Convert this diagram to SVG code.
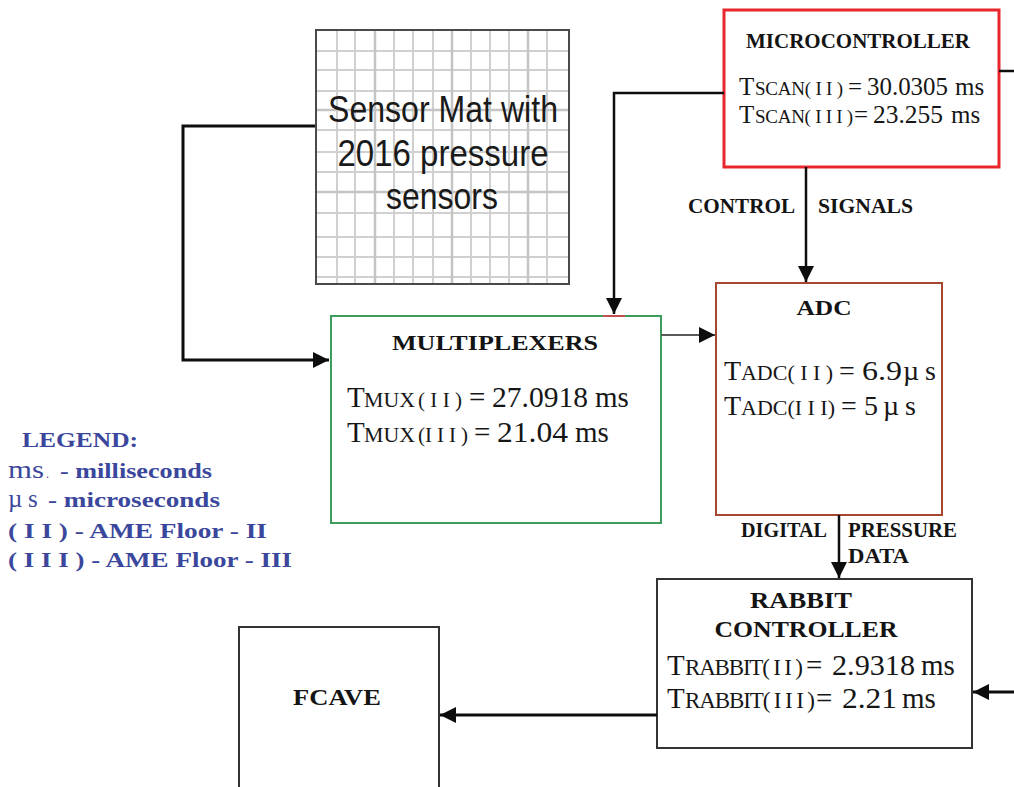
<svg xmlns="http://www.w3.org/2000/svg" width="1014" height="787" viewBox="0 0 1014 787">
<style>
.bold{font-family:"Liberation Serif","Times New Roman",serif;font-weight:bold;fill:#141414}
.ser{font-family:"Liberation Serif","Times New Roman",serif;fill:#161616}
.leg{font-family:"Liberation Serif","Times New Roman",serif;font-weight:bold;fill:#3a479c}
.legr{font-family:"Liberation Serif","Times New Roman",serif;fill:#3a479c}
.sans{font-family:"Liberation Sans",Arial,sans-serif;fill:#1a1a1a}
.conn{fill:none;stroke:#0d0d0d}
</style>
<defs>
<marker id="ah" markerUnits="userSpaceOnUse" markerWidth="17" markerHeight="17" refX="16" refY="8" orient="auto">
<path d="M0,0 L16,8 L0,16 Z" fill="#0d0d0d"/>
</marker>
</defs>
<rect width="1014" height="787" fill="#ffffff"/>

<g id="sensor-mat">
<rect x="316" y="30" width="253" height="254" fill="#ffffff"/>
<path d="M337,30V284M355,30V284M375,30V284M394,30V284M413,30V284M433,30V284M452,30V284M471,30V284M490,30V284M509,30V284M528,30V284M547,30V284M316,51H569M316,70H569M316,91H569M316,110H569M316,130H569M316,152H569M316,172H569M316,192H569M316,213H569M316,237H569M316,257H569M316,277H569" stroke="#d0d0d0" stroke-width="2" fill="none"/>
<path d="M375,30V284M452,30V284M528,30V284M316,110H569M316,192H569" stroke="#c4c4c4" stroke-width="2.5" fill="none"/>
<rect x="316" y="30" width="253" height="254" fill="none" stroke="#4a4a4a" stroke-width="2"/>
<text class="sans" font-size="36" x="443" y="122" text-anchor="middle" textLength="230" lengthAdjust="spacingAndGlyphs">Sensor Mat with</text>
<text class="sans" font-size="36" x="443" y="166" text-anchor="middle" textLength="211" lengthAdjust="spacingAndGlyphs">2016 pressure</text>
<text class="sans" font-size="36" x="442" y="209" text-anchor="middle" textLength="112" lengthAdjust="spacingAndGlyphs">sensors</text>
</g>

<g id="microcontroller">
<rect x="724" y="10" width="275" height="157" fill="#ffffff" stroke="#e8262b" stroke-width="3"/>
<text class="bold" font-size="20" x="858" y="48" text-anchor="middle" textLength="224" lengthAdjust="spacingAndGlyphs">MICROCONTROLLER</text>
<text class="ser" font-size="25" y="95"><tspan x="739">T</tspan><tspan x="755" font-size="19" textLength="88" lengthAdjust="spacing">SCAN( I I )</tspan><tspan x="848">=</tspan><tspan x="867" textLength="81" lengthAdjust="spacingAndGlyphs">30.0305</tspan><tspan x="955">ms</tspan></text>
<text class="ser" font-size="25" y="123"><tspan x="739">T</tspan><tspan x="755" font-size="19" textLength="98" lengthAdjust="spacing">SCAN( I I I )</tspan><tspan x="854">=</tspan><tspan x="873" textLength="70" lengthAdjust="spacingAndGlyphs">23.255</tspan><tspan x="951">ms</tspan></text>
</g>

<g id="multiplexers">
<rect x="331" y="316" width="330" height="207" fill="#ffffff" stroke="#3d9b5b" stroke-width="2"/>
<line x1="603" y1="316" x2="625" y2="316" stroke="#c0504d" stroke-width="2"/>
<text class="bold" font-size="22" x="495" y="350" text-anchor="middle" textLength="206" lengthAdjust="spacingAndGlyphs">MULTIPLEXERS</text>
<text class="ser" font-size="29" y="407"><tspan x="347">T</tspan><tspan x="364" font-size="22" textLength="51" lengthAdjust="spacingAndGlyphs">MUX</tspan><tspan x="418" font-size="21" textLength="44" lengthAdjust="spacing">( I I )</tspan><tspan x="469">=</tspan><tspan x="492" textLength="96" lengthAdjust="spacingAndGlyphs">27.0918</tspan><tspan x="595">ms</tspan></text>
<text class="ser" font-size="29" y="442"><tspan x="347">T</tspan><tspan x="364" font-size="22" textLength="51" lengthAdjust="spacingAndGlyphs">MUX</tspan><tspan x="418" font-size="21" textLength="50" lengthAdjust="spacing">(I I I )</tspan><tspan x="474">=</tspan><tspan x="497" textLength="71" lengthAdjust="spacingAndGlyphs">21.04</tspan><tspan x="575">ms</tspan></text>
</g>

<g id="adc">
<rect x="716" y="283" width="226" height="232" fill="#ffffff" stroke="#a4472f" stroke-width="2"/>
<text class="bold" font-size="21" x="824" y="315" text-anchor="middle" textLength="55" lengthAdjust="spacingAndGlyphs">ADC</text>
<text class="ser" font-size="28" y="380"><tspan x="724">T</tspan><tspan x="741" font-size="22" textLength="92" lengthAdjust="spacing">ADC( I I )</tspan><tspan x="839">=</tspan><tspan x="862" textLength="40" lengthAdjust="spacingAndGlyphs">6.9</tspan><tspan x="903">µ</tspan><tspan x="925">s</tspan></text>
<text class="ser" font-size="28" y="415"><tspan x="724">T</tspan><tspan x="741" font-size="22" textLength="94" lengthAdjust="spacing">ADC(I I I)</tspan><tspan x="841">=</tspan><tspan x="864">5</tspan><tspan x="883">µ</tspan><tspan x="905">s</tspan></text>
</g>

<g id="rabbit-controller">
<rect x="657" y="579" width="315" height="169" fill="#ffffff" stroke="#333333" stroke-width="2"/>
<text class="bold" font-size="23" x="801" y="608" text-anchor="middle" textLength="102" lengthAdjust="spacingAndGlyphs">RABBIT</text>
<text class="bold" font-size="23" x="806" y="637" text-anchor="middle" textLength="183" lengthAdjust="spacingAndGlyphs">CONTROLLER</text>
<text class="ser" font-size="29" y="675"><tspan x="667">T</tspan><tspan x="685" font-size="23" textLength="118" lengthAdjust="spacing">RABBIT( I I )</tspan><tspan x="806">=</tspan><tspan x="832" textLength="83" lengthAdjust="spacingAndGlyphs">2.9318</tspan><tspan x="921">ms</tspan></text>
<text class="ser" font-size="29" y="708"><tspan x="667">T</tspan><tspan x="685" font-size="23" textLength="130" lengthAdjust="spacing">RABBIT( I I I )</tspan><tspan x="816">=</tspan><tspan x="842" textLength="55" lengthAdjust="spacingAndGlyphs">2.21</tspan><tspan x="902">ms</tspan></text>
</g>

<g id="fcave">
<path d="M239,787 V627 H439 V787" fill="#ffffff" stroke="#333333" stroke-width="2"/>
<text class="bold" font-size="24" x="337" y="705" text-anchor="middle" textLength="88" lengthAdjust="spacingAndGlyphs">FCAVE</text>
</g>

<g id="legend">
<text class="leg" font-size="20" x="22" y="447" textLength="116" lengthAdjust="spacingAndGlyphs">LEGEND:</text>
<text y="478"><tspan class="legr" font-size="25" x="8" textLength="36" lengthAdjust="spacingAndGlyphs">ms</tspan><tspan class="legr" font-size="12" x="46" fill="#a8c8e8">.</tspan><tspan class="leg" font-size="20" x="60" textLength="152" lengthAdjust="spacingAndGlyphs">- milliseconds</tspan></text>
<text y="507"><tspan class="legr" font-size="25" x="8">µ</tspan><tspan class="legr" font-size="25" x="28">s</tspan><tspan class="leg" font-size="20" x="48" textLength="172" lengthAdjust="spacingAndGlyphs">- microseconds</tspan></text>
<text class="leg" font-size="20" x="8" y="538" textLength="259" lengthAdjust="spacingAndGlyphs">( I I ) - AME Floor - II</text>
<text class="leg" font-size="20" x="8" y="567" textLength="284" lengthAdjust="spacingAndGlyphs">( I I I ) - AME Floor - III</text>
</g>

<g id="connectors">
<polyline class="conn" style="stroke-width:3" points="315,126 183,126 183,360 329,360" marker-end="url(#ah)"/>
<polyline class="conn" style="stroke-width:2.5" points="724,93 614,93 614,314" marker-end="url(#ah)"/>
<line class="conn" style="stroke-width:2.5" x1="806" y1="167" x2="806" y2="282" marker-end="url(#ah)"/>
<line class="conn" style="stroke:#5a5a5a;stroke-width:1.8" x1="661" y1="335" x2="715" y2="335" marker-end="url(#ah)"/>
<line class="conn" style="stroke-width:2.5" x1="839" y1="515" x2="839" y2="578" marker-end="url(#ah)"/>
<line class="conn" style="stroke-width:3" x1="657" y1="715" x2="440" y2="715" marker-end="url(#ah)"/>
<line class="conn" style="stroke-width:3" x1="1014" y1="692" x2="973" y2="692" marker-end="url(#ah)"/>
<line class="conn" style="stroke-width:2.5" x1="999" y1="71" x2="1014" y2="71"/>
<text class="bold" font-size="20" x="688" y="213" textLength="107" lengthAdjust="spacingAndGlyphs">CONTROL</text>
<text class="bold" font-size="20" x="818" y="213" textLength="95" lengthAdjust="spacingAndGlyphs">SIGNALS</text>
<text class="bold" font-size="20" x="741" y="537" textLength="86" lengthAdjust="spacingAndGlyphs">DIGITAL</text>
<text class="bold" font-size="20" x="848" y="537" textLength="109" lengthAdjust="spacingAndGlyphs">PRESSURE</text>
<text class="bold" font-size="20" x="848" y="563" textLength="61" lengthAdjust="spacingAndGlyphs">DATA</text>
</g>
</svg>
